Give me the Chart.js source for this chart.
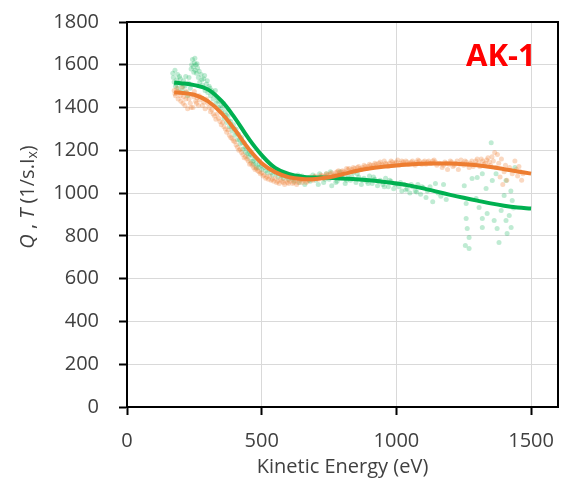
<!DOCTYPE html>
<html lang="en">
<head>
    <meta charset="UTF-8">
    <title>AK-1 Q, T vs Kinetic Energy</title>
    <script src="https://cdn.jsdelivr.net/npm/chart.js@4.4.1/dist/chart.umd.min.js"></script>
    <style>
        body {
            margin: 0;
            background: white;
        }
        .chart-box {
            width: 562px;
            height: 485px;
        }
    </style>
</head>
<body>
    <div class="chart-box">
        <canvas id="akChart" width="562" height="485"></canvas>
    </div>

    <script>
        // fitted curves
        const fitEnergy = [175, 200, 250, 300, 350, 400, 450, 500, 550, 600, 650, 700, 750, 800, 850, 900, 950, 1000, 1050, 1100, 1150, 1200, 1250, 1300, 1350, 1400, 1450, 1500];
        const fitQ = [1516, 1514, 1505, 1485, 1432, 1352, 1258, 1178, 1118, 1090, 1077, 1073, 1072, 1068, 1065, 1060, 1053, 1045, 1035, 1022, 1007, 992, 978, 965, 952, 941, 933, 928];
        const fitT = [1470, 1469, 1460, 1430, 1375, 1297, 1210, 1140, 1098, 1075, 1066, 1066, 1074, 1088, 1103, 1115, 1123, 1129, 1134, 1137, 1138, 1138, 1135, 1130, 1122, 1112, 1101, 1091];

        // raw measured points, green (Q)
        const rawQEnergy = [170, 172, 175, 178, 180, 185, 190, 195, 200, 205, 210, 215, 220, 225, 230, 235, 240, 243, 246, 250, 253, 256, 258, 262, 265, 270, 275, 280, 285, 290, 295, 300, 305, 310, 315, 320, 325, 330, 335, 340, 345, 350, 355, 360, 365, 370, 375, 380, 385, 390, 395, 400, 405, 410, 415, 420, 425, 430, 435, 440, 445, 450, 455, 460, 465, 470, 475, 480, 490, 500, 510, 520, 530, 540, 550, 560, 570, 580, 590, 600, 610, 620, 630, 640, 650, 660, 670, 680, 690, 700, 710, 720, 730, 740, 750, 760, 770, 780, 790, 800, 810, 820, 830, 840, 850, 860, 870, 880, 890, 900, 910, 920, 930, 940, 950, 960, 970, 980, 990, 1000, 1010, 1020, 1030, 1040, 1050, 1060, 1070, 1080, 1090, 1100, 1110, 1125, 1135, 1145, 1155, 1165, 1175, 1185];
        const rawQValue = [1560, 1540, 1520, 1575, 1500, 1530, 1490, 1545, 1510, 1480, 1525, 1500, 1470, 1455, 1540, 1490, 1600, 1625, 1590, 1610, 1575, 1600, 1560, 1585, 1540, 1520, 1555, 1505, 1535, 1480, 1510, 1470, 1500, 1455, 1480, 1440, 1460, 1420, 1445, 1400, 1430, 1380, 1400, 1350, 1380, 1330, 1360, 1310, 1335, 1290, 1320, 1270, 1300, 1250, 1275, 1230, 1260, 1205, 1235, 1190, 1210, 1170, 1195, 1150, 1175, 1135, 1160, 1120, 1135, 1110, 1120, 1095, 1110, 1085, 1100, 1075, 1095, 1070, 1090, 1065, 1080, 1055, 1075, 1050, 1080, 1040, 1070, 1055, 1085, 1060, 1040, 1075, 1050, 1090, 1065, 1035, 1080, 1055, 1100, 1070, 1045, 1085, 1060, 1095, 1050, 1075, 1040, 1070, 1055, 1080, 1045, 1065, 1035, 1060, 1040, 1070, 1030, 1055, 1020, 1045, 1030, 1010, 1040, 1020, 1000, 1030, 1010, 1040, 995, 1025, 980, 1030, 960, 1045, 1000, 985, 1040, 970];
        const moreQEnergy = [182, 188, 198, 208, 218, 228, 238, 248, 252, 260, 268, 278, 288, 298, 308, 318, 328, 338, 348, 358, 368, 378, 388, 398, 408, 418, 428, 438, 448, 458, 468, 478, 488, 498, 515, 535, 555, 575, 595, 615, 635, 655, 675, 695, 715, 735, 755, 775, 795, 815, 835, 855, 875, 895, 915, 935, 955, 975, 995, 1015, 1035, 1055, 1075, 1095, 1115];
        const moreQValue = [1510, 1555, 1535, 1500, 1545, 1515, 1580, 1565, 1630, 1605, 1570, 1530, 1550, 1525, 1490, 1470, 1480, 1430, 1410, 1420, 1365, 1340, 1310, 1300, 1280, 1250, 1235, 1215, 1185, 1180, 1150, 1140, 1120, 1130, 1105, 1095, 1090, 1080, 1075, 1070, 1085, 1065, 1060, 1075, 1090, 1065, 1100, 1050, 1085, 1060, 1075, 1090, 1060, 1045, 1075, 1055, 1030, 1060, 1040, 1050, 1015, 1040, 1005, 1030, 1010];
        // the wide spread of green points at the high-energy end
        const tailQEnergy = [1252, 1281, 1259, 1259, 1263, 1270, 1256, 1270, 1296, 1307, 1319, 1319, 1333, 1337, 1352, 1356, 1363, 1374, 1381, 1389, 1400, 1407, 1411, 1419, 1430, 1426, 1300, 1319, 1370, 1407, 1425, 1435, 1440];
        const tailQValue = [1035, 1068, 951, 881, 835, 793, 755, 741, 975, 933, 881, 839, 1021, 905, 1236, 1059, 872, 835, 769, 919, 989, 872, 811, 895, 965, 839, 1073, 1091, 1091, 1059, 1010, 930, 1120];

        // raw measured points, orange (T)
        const rawTEnergy = [175, 180, 185, 190, 195, 200, 205, 210, 215, 220, 225, 230, 235, 240, 245, 250, 255, 260, 265, 270, 280, 290, 300, 310, 320, 330, 340, 350, 360, 370, 380, 390, 400, 410, 420, 430, 440, 450, 460, 470, 480, 490, 500, 510, 520, 530, 540, 550, 560, 570, 580, 590, 600, 610, 620, 630, 640, 650, 660, 670, 680, 690, 700, 710, 720, 730, 740, 750, 760, 770, 780, 790, 800, 810, 820, 830, 840, 850, 860, 870, 880, 890, 900, 910, 920, 930, 940, 950, 960, 970, 980, 990, 1000, 1010, 1020, 1030, 1040, 1050, 1060, 1070, 1080, 1090, 1100, 1110, 1120, 1130, 1140, 1150, 1170, 1180, 1190, 1200, 1210, 1220, 1230, 1240, 1250, 1260, 1270, 1280, 1290, 1300, 1310, 1320, 1330, 1340, 1350, 1355, 1360, 1365, 1370, 1375, 1380, 1385, 1390, 1395, 1400, 1405, 1410, 1420, 1430, 1440, 1445, 1450, 1455, 1460, 1465, 1470];
        const rawTValue = [1480, 1455, 1490, 1440, 1470, 1430, 1495, 1450, 1410, 1475, 1395, 1440, 1420, 1460, 1400, 1475, 1430, 1445, 1410, 1435, 1410, 1395, 1420, 1380, 1370, 1345, 1350, 1320, 1310, 1285, 1270, 1255, 1240, 1215, 1205, 1180, 1170, 1150, 1140, 1120, 1115, 1100, 1095, 1085, 1075, 1080, 1065, 1070, 1055, 1065, 1050, 1060, 1045, 1065, 1050, 1040, 1060, 1050, 1070, 1055, 1075, 1060, 1080, 1065, 1085, 1070, 1090, 1075, 1095, 1085, 1100, 1090, 1105, 1095, 1110, 1100, 1120, 1105, 1125, 1110, 1130, 1115, 1135, 1120, 1140, 1125, 1145, 1130, 1140, 1125, 1150, 1135, 1145, 1130, 1150, 1135, 1145, 1140, 1150, 1130, 1155, 1140, 1145, 1135, 1150, 1140, 1155, 1130, 1120, 1145, 1110, 1150, 1125, 1140, 1110, 1155, 1130, 1145, 1120, 1150, 1135, 1160, 1125, 1150, 1140, 1165, 1130, 1170, 1150, 1190, 1120, 1180, 1140, 1075, 1160, 1040, 1100, 1130, 1060, 1120, 1090, 1150, 1110, 1080, 1125, 1100, 1060, 1090];
        const moreTEnergy = [178, 188, 198, 208, 218, 228, 238, 248, 258, 268, 285, 295, 305, 315, 325, 335, 345, 355, 365, 375, 385, 395, 405, 415, 425, 435, 445, 455, 465, 475, 485, 495, 505, 515, 525, 535, 545, 555, 565, 575, 585, 595, 605, 615, 625, 635, 645, 655, 665, 675, 685, 695, 705, 715, 725, 735, 745, 755, 765, 775, 785, 795, 805, 815, 825, 835, 845, 855, 865, 875, 885, 895, 905, 915, 925, 935, 945, 955, 965, 975, 985, 995, 1005, 1015, 1025, 1035, 1045, 1055, 1065, 1075, 1085, 1095, 1105, 1115, 1125, 1135, 1145, 1160, 1175, 1185, 1195, 1205, 1215, 1225, 1235, 1245, 1255, 1265, 1275, 1285, 1295, 1305, 1315, 1325, 1335, 1345];
        const moreTValue = [1465, 1475, 1455, 1420, 1440, 1460, 1400, 1450, 1420, 1455, 1425, 1440, 1400, 1390, 1360, 1370, 1335, 1330, 1300, 1295, 1260, 1245, 1225, 1200, 1190, 1165, 1160, 1135, 1130, 1110, 1105, 1090, 1080, 1070, 1065, 1060, 1055, 1050, 1045, 1055, 1040, 1050, 1055, 1045, 1060, 1050, 1065, 1060, 1050, 1070, 1065, 1075, 1070, 1075, 1080, 1080, 1085, 1090, 1080, 1095, 1105, 1100, 1100, 1115, 1115, 1110, 1115, 1120, 1115, 1120, 1125, 1125, 1130, 1130, 1135, 1140, 1135, 1150, 1135, 1140, 1145, 1140, 1155, 1140, 1145, 1150, 1135, 1145, 1140, 1145, 1150, 1135, 1150, 1145, 1140, 1150, 1145, 1140, 1130, 1140, 1135, 1145, 1130, 1150, 1135, 1140, 1150, 1135, 1140, 1125, 1150, 1140, 1160, 1135, 1155, 1145];

        const xTicks = [0, 500, 1000, 1500];

        function toPoints(xs, ys) {
            return xs.map((x, i) => ({ x: x, y: ys[i] }));
        }

        // frame, rotated y title with italics/subscript, and the AK-1 tag
        const decorations = {
            id: 'decorations',
            afterDraw(chart) {
                const ctx = chart.ctx;
                const area = chart.chartArea;
                ctx.save();
                ctx.strokeStyle = '#000';
                ctx.lineWidth = 2;
                ctx.strokeRect(area.left, area.top, area.right - area.left, area.bottom - area.top);

                // y axis title
                const parts = [
                    { t: 'Q', f: 'italic 20px "Open Sans"', dy: 0 },
                    { t: ' , ', f: '20px "Open Sans"', dy: 0 },
                    { t: 'T', f: 'italic 20px "Open Sans"', dy: 0 },
                    { t: ' (1/s.I', f: '20px "Open Sans"', dy: 0 },
                    { t: 'x', f: '14px "Open Sans"', dy: 5 },
                    { t: ')', f: '20px "Open Sans"', dy: 0 }
                ];
                let total = 0;
                parts.forEach(p => { ctx.font = p.f; p.w = ctx.measureText(p.t).width; total += p.w; });
                ctx.translate(28, 197);
                ctx.rotate(-Math.PI / 2);
                ctx.fillStyle = '#404040';
                ctx.textBaseline = 'middle';
                ctx.textAlign = 'left';
                let px = -total / 2;
                parts.forEach(p => {
                    ctx.font = p.f;
                    ctx.fillText(p.t, px, p.dy);
                    px += p.w;
                });
                ctx.restore();

                ctx.save();
                ctx.fillStyle = '#ff0000';
                ctx.font = 'bold 31px "Open Sans"';
                ctx.textAlign = 'left';
                ctx.textBaseline = 'alphabetic';
                ctx.fillText('AK-1', 466, 66);
                ctx.restore();
            }
        };

        new Chart(document.getElementById('akChart'), {
            type: 'scatter',
            data: {
                datasets: [
                    {
                        label: 'T fit',
                        type: 'line',
                        data: toPoints(fitEnergy, fitT),
                        borderColor: '#ed7d31',
                        borderWidth: 4,
                        pointRadius: 0,
                        tension: 0.4,
                        fill: false,
                        order: 0
                    },
                    {
                        label: 'Q fit',
                        type: 'line',
                        data: toPoints(fitEnergy, fitQ),
                        borderColor: '#00b050',
                        borderWidth: 4,
                        pointRadius: 0,
                        tension: 0.4,
                        fill: false,
                        order: 1
                    },
                    {
                        label: 'T raw',
                        data: toPoints(rawTEnergy.concat(moreTEnergy), rawTValue.concat(moreTValue)),
                        backgroundColor: 'rgba(237,125,49,0.3)',
                        borderWidth: 0,
                        pointRadius: 2.5,
                        order: 2
                    },
                    {
                        label: 'Q raw',
                        data: toPoints(rawQEnergy.concat(moreQEnergy, tailQEnergy), rawQValue.concat(moreQValue, tailQValue)),
                        backgroundColor: 'rgba(0,176,80,0.25)',
                        borderWidth: 0,
                        pointRadius: 2.5,
                        order: 3
                    }
                ]
            },
            options: {
                responsive: false,
                animation: false,
                devicePixelRatio: 1,
                layout: {
                    padding: { top: 22, right: 4, left: 0, bottom: 0 }
                },
                plugins: {
                    legend: { display: false },
                    tooltip: { enabled: false }
                },
                scales: {
                    x: {
                        type: 'linear',
                        min: 0,
                        max: 1600,
                        afterFit: s => {
                            s.height = 78;
                            s.paddingLeft = 0;
                            s.paddingRight = 0;
                        },
                        afterBuildTicks: s => { s.ticks = xTicks.map(v => ({ value: v })); },
                        ticks: {
                            stepSize: 500,
                            includeBounds: false,
                            padding: 14,
                            color: '#404040',
                            font: { family: 'Open Sans', size: 20 },
                            maxRotation: 0,
                            callback: v => String(v)
                        },
                        grid: {
                            color: '#d9d9d9',
                            tickColor: '#000',
                            tickLength: 8,
                            tickWidth: 2
                        },
                        border: { color: '#000', width: 2 },
                        title: {
                            display: true,
                            text: 'Kinetic Energy (eV)',
                            color: '#404040',
                            font: { family: 'Open Sans', size: 20 },
                            padding: { top: 0, bottom: 6 }
                        }
                    },
                    y: {
                        min: 0,
                        max: 1800,
                        afterFit: s => {
                            s.width = 127;
                            s.paddingTop = 0;
                            s.paddingBottom = 0;
                        },
                        ticks: {
                            stepSize: 200,
                            padding: 20,
                            color: '#404040',
                            font: { family: 'Open Sans', size: 20 },
                            callback: v => String(v)
                        },
                        grid: {
                            color: '#d9d9d9',
                            tickColor: '#000',
                            tickLength: 8,
                            tickWidth: 2
                        },
                        border: { color: '#000', width: 2 }
                    }
                }
            },
            plugins: [decorations]
        });
    </script>
</body>
</html>
